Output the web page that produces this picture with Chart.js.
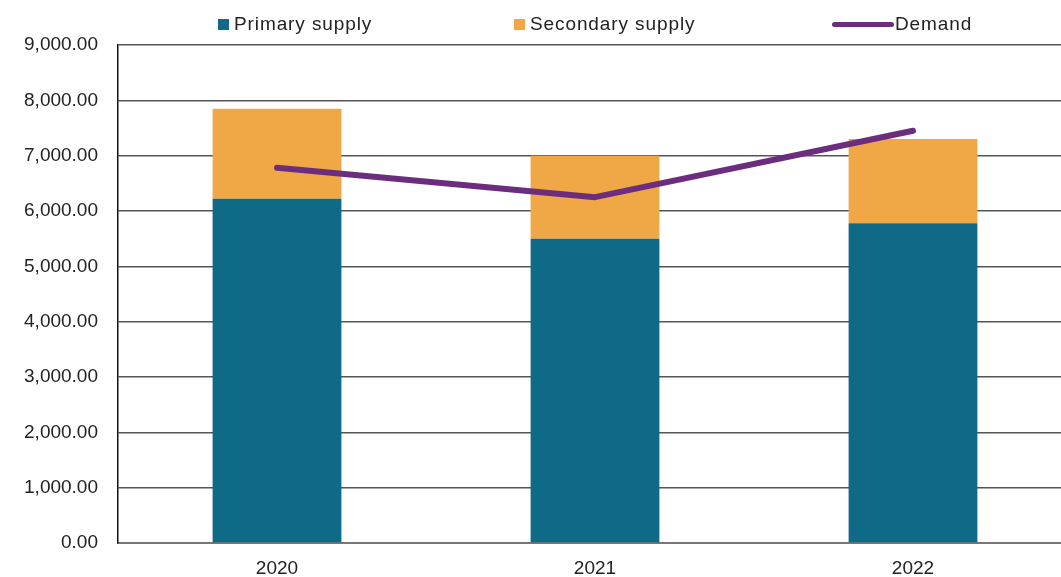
<!DOCTYPE html>
<html>
<head>
<meta charset="utf-8">
<script src="https://cdn.jsdelivr.net/npm/chart.js@4"></script>
<style>
  html, body { margin: 0; padding: 0; background: #fff; overflow: hidden; }
  #wrap { position: relative; width: 1072px; height: 577px; }
  #legend { position: absolute; top: 12px; left: 0; width: 1072px; height: 24px;
    font-family: "Liberation Sans", Arial, sans-serif; font-size: 19px; letter-spacing: 0.9px; color: #222; }
  .item { position: absolute; top: 0; display: flex; align-items: center; height: 24px; }
  .box { width: 11px; height: 11px; margin-right: 5px; }
  .ln { width: 62px; height: 5px; border-radius: 3px; margin-right: 1px; }
</style>
</head>
<body>
<div id="wrap">
  <canvas id="supplyChart"></canvas>
  <div id="legend"></div>
</div>
<script>
const years = ["2020", "2021", "2022"];
const primarySupply = [6220, 5500, 5780];
const secondarySupply = [1630, 1500, 1520];
const demand = [6780, 6250, 7450];

const primaryColor = "#0e6a86";
const secondaryColor = "#f0a847";
const demandColor = "#6c2d7f";

// legend items sit at fixed spots like the original
const legendItems = [
  { text: "Primary supply", color: primaryColor, left: 218, type: "box" },
  { text: "Secondary supply", color: secondaryColor, left: 514, type: "box" },
  { text: "Demand", color: demandColor, left: 832, type: "line" },
];
const legendEl = document.getElementById("legend");
legendItems.forEach(function (it) {
  const div = document.createElement("div");
  div.className = "item";
  div.style.left = it.left + "px";
  const mark = document.createElement("span");
  mark.className = it.type === "box" ? "box" : "ln";
  mark.style.background = it.color;
  const label = document.createElement("span");
  label.textContent = it.text;
  div.appendChild(mark);
  div.appendChild(label);
  legendEl.appendChild(div);
});

const ctx = document.getElementById("supplyChart");
ctx.style.width = "1072px";
ctx.style.height = "577px";

const tickFont = { family: "Liberation Sans", size: 19 };

new Chart(ctx, {
  type: "bar",
  data: {
    labels: years,
    datasets: [
      {
        type: "line",
        label: "Demand",
        data: demand,
        borderColor: demandColor,
        borderWidth: 6,
        borderCapStyle: "round",
        borderJoinStyle: "round",
        pointRadius: 0,
        tension: 0,
        stack: "demand",
        order: 0,
      },
      {
        label: "Primary supply",
        data: primarySupply,
        backgroundColor: primaryColor,
        stack: "supply",
        order: 1,
        barPercentage: 0.9,
        categoryPercentage: 0.45,
      },
      {
        label: "Secondary supply",
        data: secondarySupply,
        backgroundColor: secondaryColor,
        stack: "supply",
        order: 1,
        barPercentage: 0.9,
        categoryPercentage: 0.45,
      },
    ],
  },
  options: {
    responsive: false,
    animation: false,
    layout: { padding: { top: 45, right: 0, bottom: 0, left: 0 } },
    scales: {
      x: {
        stacked: true,
        afterFit: function (scale) {
          scale.height = 34;
        },
        grid: { display: false },
        border: { color: "#777", width: 2 },
        ticks: {
          color: "#222",
          padding: 6,
          font: tickFont,
        },
      },
      y: {
        stacked: true,
        min: 0,
        max: 9000,
        afterFit: function (scale) {
          scale.width = 118;
        },
        grid: { color: "#555", lineWidth: 1.5, drawTicks: false },
        border: { color: "#111", width: 1.5 },
        ticks: {
          stepSize: 1000,
          color: "#222",
          padding: 20,
          font: tickFont,
          callback: function (v) {
            return v.toLocaleString("en-US", { minimumFractionDigits: 2, maximumFractionDigits: 2 });
          },
        },
      },
    },
    plugins: {
      legend: { display: false },
      tooltip: { enabled: false },
    },
  },
});
</script>
</body>
</html>
